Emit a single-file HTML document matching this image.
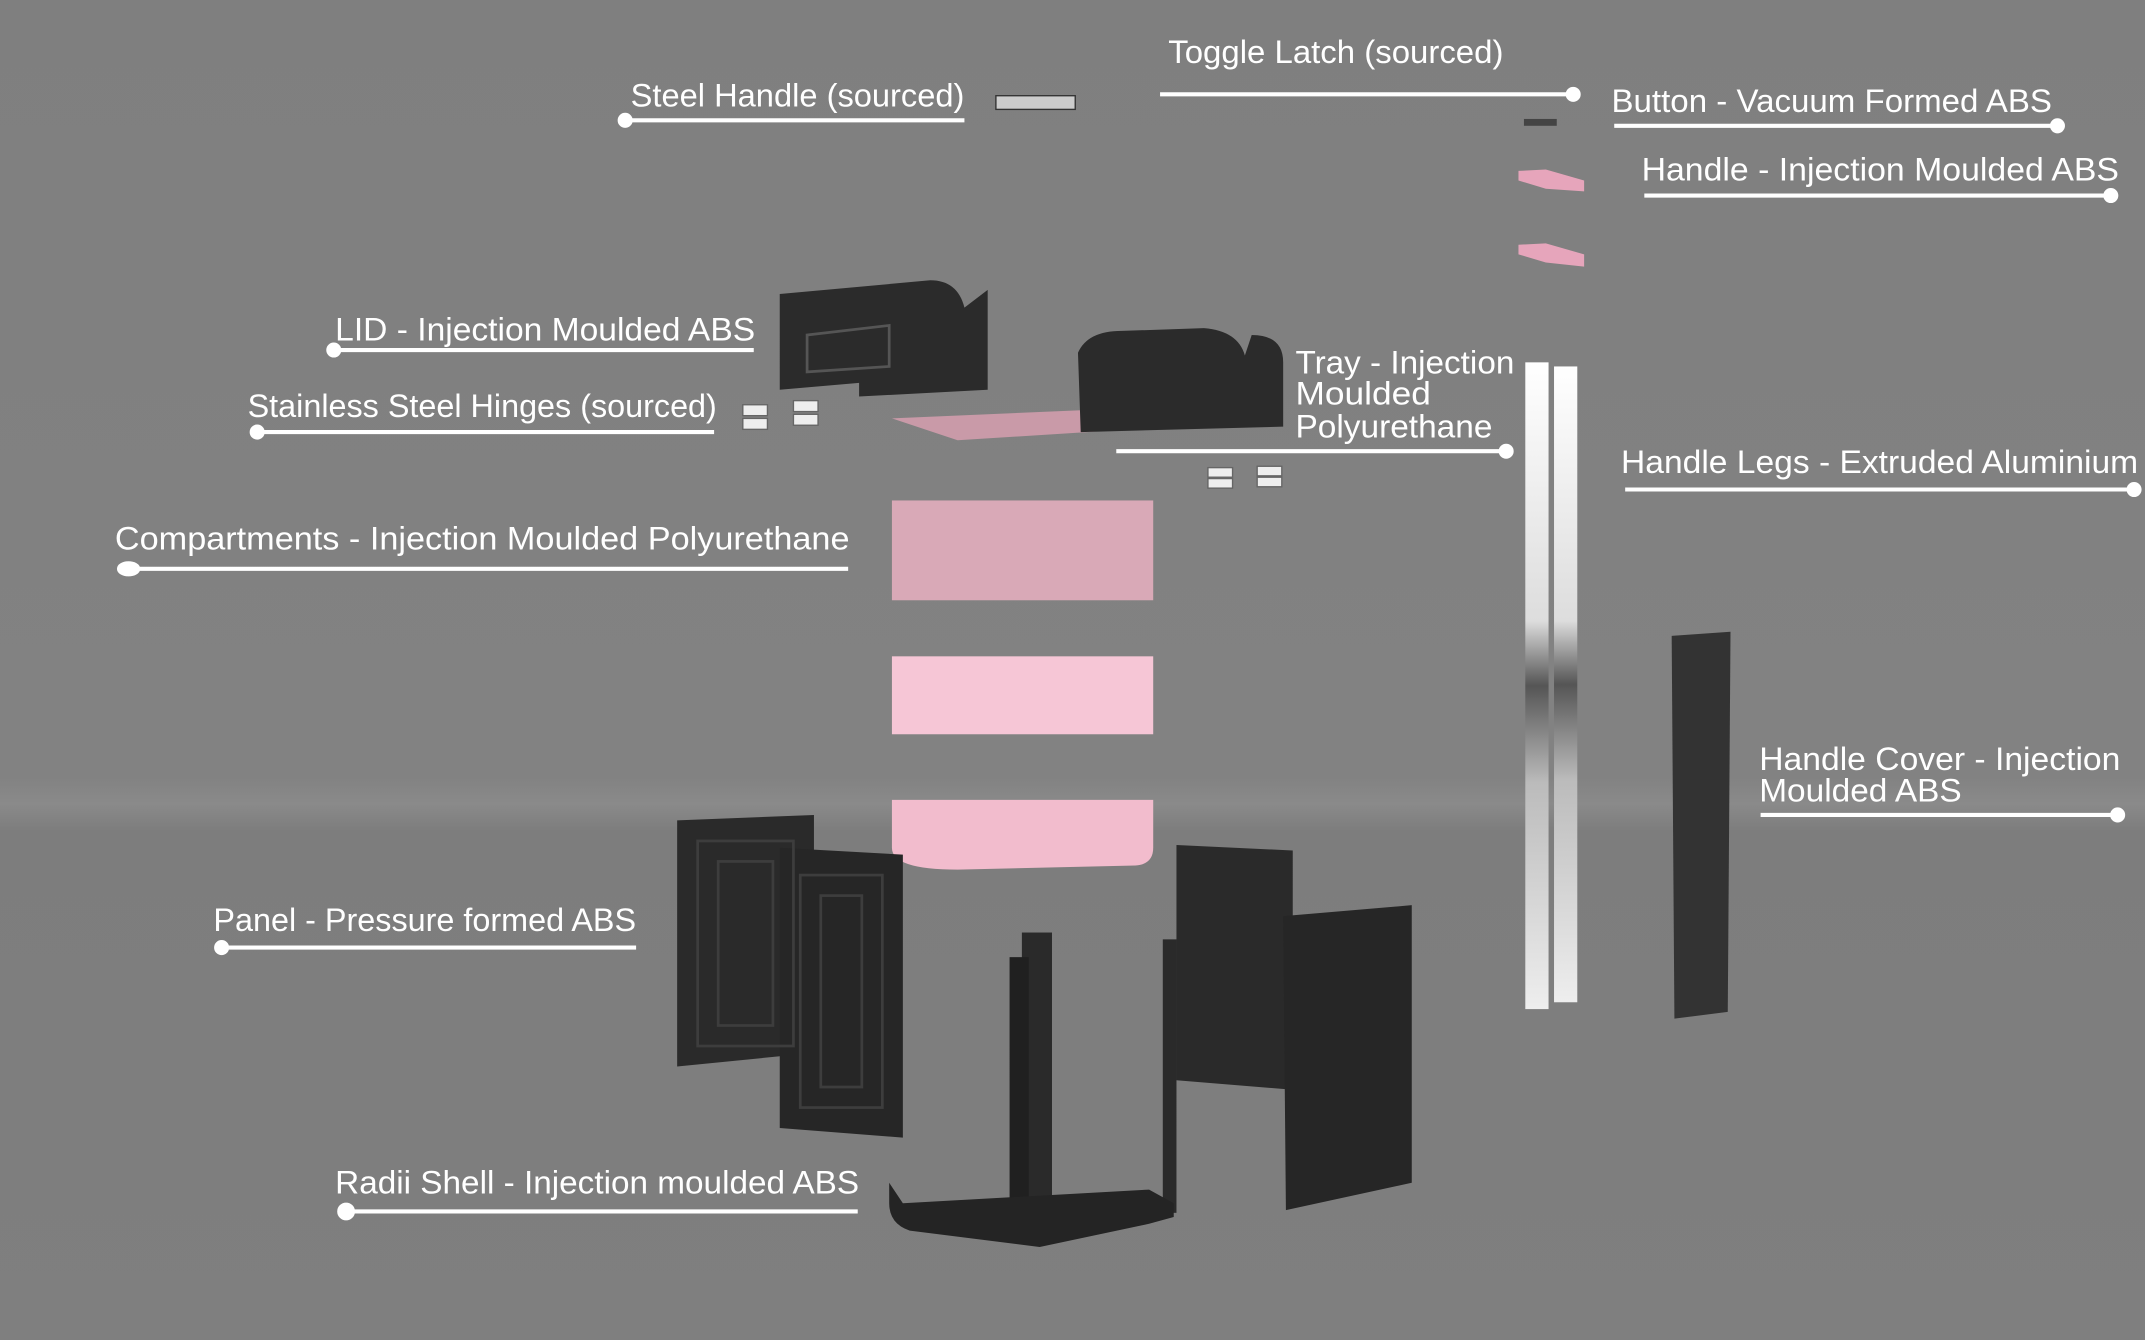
<!DOCTYPE html>
<html><head><meta charset="utf-8"><style>
html,body{margin:0;padding:0;background:#808080;}
svg{display:block;}
text{font-family:"Liberation Sans",sans-serif;font-size:24px;fill:#fff;}
</style></head><body>
<svg width="2145" height="1340" viewBox="0 0 1568 980" preserveAspectRatio="none" xmlns="http://www.w3.org/2000/svg">
<defs>
<linearGradient id="bg" x1="0" y1="0" x2="0" y2="1">
<stop offset="0" stop-color="#7f7f7f"/><stop offset="0.58" stop-color="#828282"/><stop offset="0.6" stop-color="#8a8a8a"/><stop offset="0.62" stop-color="#7d7d7d"/><stop offset="1" stop-color="#7f7f7f"/></linearGradient>
<linearGradient id="al" x1="0" y1="0" x2="0" y2="1">
<stop offset="0" stop-color="#fff"/><stop offset="0.4" stop-color="#ddd"/><stop offset="0.5" stop-color="#555"/><stop offset="0.65" stop-color="#bbb"/><stop offset="1" stop-color="#eee"/></linearGradient>
</defs>
<rect width="1568" height="980" fill="url(#bg)"/>
<g stroke="#fff" stroke-width="3" fill="#fff">
<line x1="457" y1="88" x2="705" y2="88"/><circle cx="457" cy="88" r="4"/>
<line x1="848" y1="69" x2="1150" y2="69"/><circle cx="1150" cy="69" r="4"/>
<line x1="1180" y1="92" x2="1504" y2="92"/><circle cx="1504" cy="92" r="4"/>
<line x1="1202" y1="143" x2="1543" y2="143"/><circle cx="1543" cy="143" r="4"/>
<line x1="244" y1="256" x2="551" y2="256"/><circle cx="244" cy="256" r="4"/>
<line x1="188" y1="316" x2="522" y2="316"/><circle cx="188" cy="316" r="4"/>
<line x1="816" y1="330" x2="1101" y2="330"/><circle cx="1101" cy="330" r="4"/>
<line x1="1188" y1="358" x2="1560" y2="358"/><circle cx="1560" cy="358" r="4"/>
<line x1="94" y1="416" x2="620" y2="416"/><ellipse cx="94" cy="416" rx="7" ry="4"/>
<line x1="1287" y1="596" x2="1548" y2="596"/><circle cx="1548" cy="596" r="4"/>
<line x1="162" y1="693" x2="465" y2="693"/><circle cx="162" cy="693" r="4"/>
<line x1="253" y1="886" x2="627" y2="886"/><circle cx="253" cy="886" r="5"/>
</g>
<g lengthAdjust="spacingAndGlyphs">
<text x="461" y="78" textLength="244" lengthAdjust="spacingAndGlyphs">Steel Handle (sourced)</text>
<text x="854" y="46" textLength="245" lengthAdjust="spacingAndGlyphs">Toggle Latch (sourced)</text>
<text x="1178" y="82" textLength="322" lengthAdjust="spacingAndGlyphs">Button - Vacuum Formed ABS</text>
<text x="1200" y="132" textLength="349" lengthAdjust="spacingAndGlyphs">Handle - Injection Moulded ABS</text>
<text x="245" y="249" textLength="307" lengthAdjust="spacingAndGlyphs">LID - Injection Moulded ABS</text>
<text x="181" y="305" textLength="343" lengthAdjust="spacingAndGlyphs">Stainless Steel Hinges (sourced)</text>
<text x="947" y="273" textLength="160" lengthAdjust="spacingAndGlyphs">Tray - Injection</text>
<text x="947" y="296" textLength="99" lengthAdjust="spacingAndGlyphs">Moulded</text>
<text x="947" y="320" textLength="144" lengthAdjust="spacingAndGlyphs">Polyurethane</text>
<text x="1185" y="346" textLength="378" lengthAdjust="spacingAndGlyphs">Handle Legs - Extruded Aluminium</text>
<text x="84" y="402" textLength="537" lengthAdjust="spacingAndGlyphs">Compartments - Injection Moulded Polyurethane</text>
<text x="1286" y="563" textLength="264" lengthAdjust="spacingAndGlyphs">Handle Cover - Injection</text>
<text x="1286" y="586" textLength="148" lengthAdjust="spacingAndGlyphs">Moulded ABS</text>
<text x="156" y="681" textLength="309" lengthAdjust="spacingAndGlyphs">Panel - Pressure formed ABS</text>
<text x="245" y="873" textLength="383" lengthAdjust="spacingAndGlyphs">Radii Shell - Injection moulded ABS</text>
</g>
<!-- small parts -->
<rect x="728" y="70" width="58" height="10" fill="#ccc" stroke="#333" stroke-width="1"/>
<rect x="1114" y="87" width="24" height="5" fill="#444"/>
<polygon points="1110,125 1130,124 1158,132 1158,140 1130,138 1110,132" fill="#e6a5bb"/>
<polygon points="1110,179 1130,178 1158,186 1158,195 1130,192 1110,186" fill="#e6a5bb"/>
<g fill="#eee" stroke="#666" stroke-width="1">
<rect x="543" y="296" width="18" height="8"/><rect x="543" y="306" width="18" height="8"/>
<rect x="580" y="293" width="18" height="8"/><rect x="580" y="303" width="18" height="8"/>
<rect x="883" y="342" width="18" height="7"/><rect x="883" y="350" width="18" height="7"/>
<rect x="919" y="341" width="18" height="7"/><rect x="919" y="349" width="18" height="7"/>
</g>
<!-- lid -->
<path d="M570 215 L680 205 Q700 205 705 225 L722 212 L722 285 L628 290 L628 280 L570 285 Z" fill="#2b2b2b"/>
<path d="M590 245 L650 238 L650 268 L590 272 Z" fill="none" stroke="#555" stroke-width="2"/>
<!-- tray -->
<polygon points="652,306 790,300 843,313 700,322" fill="#c99aa8"/>
<path d="M788 258 Q795 242 820 242 L880 240 Q905 242 910 260 L915 245 Q938 245 938 265 L938 312 L790 316 Z" fill="#2b2b2b"/>
<!-- compartments -->
<rect x="652" y="366" width="191" height="73" fill="#d9a9b7"/>
<rect x="652" y="480" width="191" height="57" fill="#f6c6d6"/>
<path d="M652 585 L843 585 L843 620 Q843 632 830 633 L700 636 Q652 636 652 620 Z" fill="#f2bccd"/>
<!-- panels -->
<polygon points="495,600 595,596 595,770 495,780" fill="#2a2a2a"/>
<polygon points="570,620 660,625 660,832 570,825" fill="#262626"/>
<g fill="none" stroke="#3d3d3d" stroke-width="2">
<rect x="510" y="615" width="70" height="150"/><rect x="525" y="630" width="40" height="120"/>
<rect x="585" y="640" width="60" height="170"/><rect x="600" y="655" width="30" height="140"/>
<rect x="872" y="632" width="60" height="150"/><rect x="886" y="646" width="32" height="120"/>
</g>
<polygon points="860,618 945,622 945,797 860,790" fill="#2a2a2a"/>
<polygon points="938,670 1032,662 1032,865 940,885" fill="#262626"/>
<!-- shell -->
<rect x="747" y="682" width="22" height="225" fill="#2a2a2a"/>
<rect x="738" y="700" width="14" height="200" fill="#202020"/>
<rect x="850" y="687" width="10" height="200" fill="#2a2a2a"/>
<path d="M650 865 L660 880 L840 870 L858 880 L858 890 L840 895 L760 912 L665 900 Q650 895 650 880 Z" fill="#242424"/>
<!-- handle legs -->
<rect x="1115" y="265" width="17" height="473" fill="url(#al)"/>
<rect x="1136" y="268" width="17" height="465" fill="url(#al)"/>
<!-- handle cover -->
<polygon points="1222,465 1265,462 1263,740 1224,745" fill="#333"/>
</svg>
</body></html>
